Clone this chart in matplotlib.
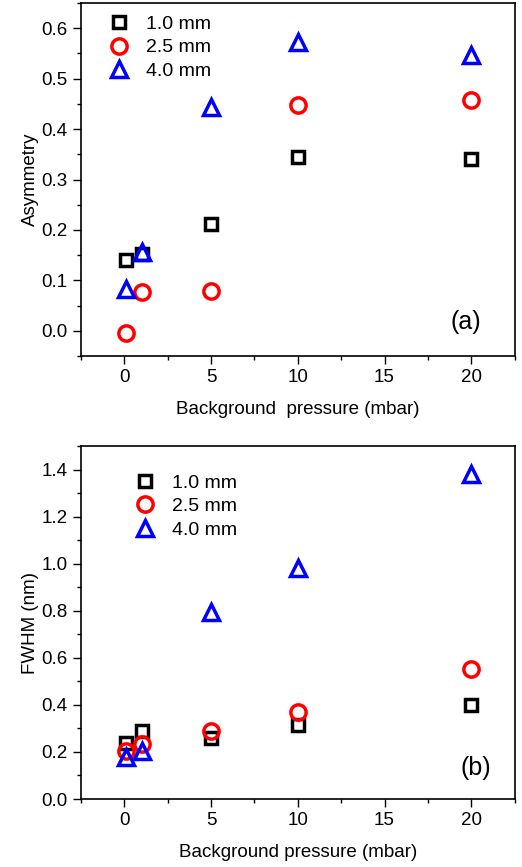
import matplotlib
matplotlib.use("Agg")
import matplotlib.pyplot as plt
from matplotlib.ticker import MultipleLocator, FormatStrFormatter

plt.rcParams['font.family'] = ['Liberation Sans', 'DejaVu Sans']
plt.rcParams['font.size'] = 13.5

# pressure (mbar)
pressure = [0.1, 1, 5, 10, 20]
labels = ["1.0 mm", "2.5 mm", "4.0 mm"]

# (a) asymmetry
asym_10 = [0.141, 0.153, 0.212, 0.345, 0.341]
asym_25 = [-0.004, 0.077, 0.079, 0.448, 0.458]
asym_40 = [0.083, 0.157, 0.444, 0.573, 0.546]

# (b) FWHM (nm)
fwhm_10 = [0.238, 0.29, 0.26, 0.315, 0.40]
fwhm_25 = [0.204, 0.234, 0.29, 0.37, 0.553]
fwhm_40 = [0.18, 0.205, 0.795, 0.983, 1.383]

styles = [("s", "black", 9), ("o", "red", 11), ("^", "blue", 12)]

fig = plt.figure(figsize=(5.22, 8.67), dpi=100)
ax1 = fig.add_axes([0.155, 0.5894, 0.831, 0.4071])
ax2 = fig.add_axes([0.155, 0.0784, 0.831, 0.4072])


def draw(ax, series, ylim, major, minor, ylabel, xlabel, tag, tagpos, legpos):
    for ys, (m, c, s), lab in zip(series, styles, labels):
        ax.plot(pressure, ys, linestyle="none", marker=m, markersize=s,
                markerfacecolor="none", markeredgecolor=c, markeredgewidth=2.5,
                label=lab)
    ax.set_xlim(-2.5, 22.5)
    ax.set_ylim(*ylim)
    ax.xaxis.set_major_locator(MultipleLocator(5))
    ax.xaxis.set_minor_locator(MultipleLocator(2.5))
    ax.yaxis.set_major_locator(MultipleLocator(major))
    ax.yaxis.set_minor_locator(MultipleLocator(minor))
    ax.yaxis.set_major_formatter(FormatStrFormatter("%.1f"))
    ax.tick_params(which="major", direction="out", length=5.5, width=1,
                   labelsize=13.5, pad=4)
    ax.tick_params(which="minor", direction="out", length=3, width=1)
    for sp in ax.spines.values():
        sp.set_linewidth(1.2)
    ax.set_ylabel(ylabel, fontsize=13.5, labelpad=2)
    ax.set_xlabel(xlabel, fontsize=13.5, labelpad=11)
    ax.text(tagpos[0], tagpos[1], tag, transform=ax.transAxes, fontsize=18,
            ha="center", va="center")
    ax.legend(loc="upper left", bbox_to_anchor=legpos, frameon=False,
              handlelength=1.0, handletextpad=0.9, labelspacing=0.3,
              borderpad=0, borderaxespad=0, fontsize=14)


draw(ax1, [asym_10, asym_25, asym_40], (-0.05, 0.65), 0.1, 0.05,
     "Asymmetry", "Background  pressure (mbar)", "(a)", (0.887, 0.096),
     (0.065, 0.965))
draw(ax2, [fwhm_10, fwhm_25, fwhm_40], (0.0, 1.5), 0.2, 0.1,
     "FWHM (nm)", "Background pressure (mbar)", "(b)", (0.91, 0.088),
     (0.125, 0.92))

fig.savefig("out.png", dpi=100)
